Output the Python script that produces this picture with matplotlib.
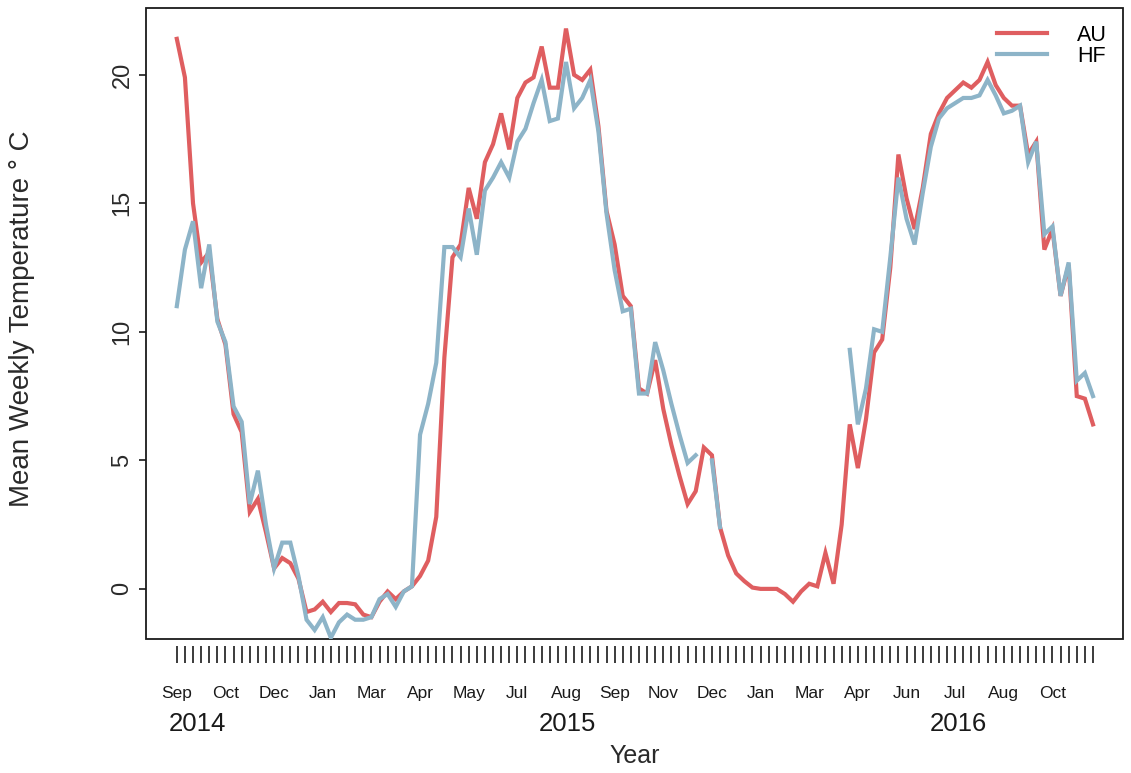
import numpy as np
import matplotlib
matplotlib.use("Agg")
import matplotlib.pyplot as plt
from matplotlib.patches import Rectangle

plt.rcParams['font.family'] = ['Liberation Sans', 'DejaVu Sans']

nan = np.nan

# mean weekly temperature, one value per week from Sep 2014
au = [21.4, 19.9, 15.0, 12.7, 13.1, 10.5, 9.5, 6.8, 6.1, 3.0,
      3.5, 2.2, 0.8, 1.2, 1.0, 0.4, -0.9, -0.8, -0.5, -0.9,
      -0.55, -0.55, -0.6, -1.0, -1.1, -0.5, -0.1, -0.4, -0.1, 0.1,
      0.5, 1.1, 2.8, 9.0, 12.9, 13.4, 15.6, 14.4, 16.6, 17.3,
      18.5, 17.1, 19.1, 19.7, 19.9, 21.1, 19.5, 19.5, 21.8, 20.0,
      19.8, 20.2, 18.0, 14.7, 13.4, 11.4, 11.0, 7.8, 7.6, 8.9,
      7.0, 5.6, 4.4, 3.3, 3.8, 5.5, 5.2, 2.4, 1.3, 0.6,
      0.3, 0.05, 0.0, 0.0, 0.0, -0.2, -0.5, -0.1, 0.2, 0.1,
      1.4, 0.2, 2.5, 6.4, 4.7, 6.6, 9.2, 9.7, 12.5, 16.9,
      15.2, 14.0, 15.6, 17.7, 18.5, 19.1, 19.4, 19.7, 19.5, 19.8,
      20.5, 19.6, 19.1, 18.8, 18.8, 16.9, 17.4, 13.2, 14.0, 11.4,
      12.6, 7.5, 7.4, 6.4]

hf = [11.0, 13.2, 14.3, 11.7, 13.4, 10.4, 9.6, 7.1, 6.5, 3.3,
      4.6, 2.5, 0.8, 1.8, 1.8, 0.5, -1.2, -1.6, -1.1, -1.9,
      -1.3, -1.0, -1.2, -1.2, -1.1, -0.4, -0.2, -0.7, -0.1, 0.1,
      6.0, 7.2, 8.8, 13.3, 13.3, 12.9, 14.8, 13.0, 15.5, 16.0,
      16.6, 16.0, 17.4, 17.9, 18.9, 19.8, 18.2, 18.3, 20.5, 18.7,
      19.1, 19.8, 17.8, 14.6, 12.4, 10.8, 10.9, 7.6, 7.6, 9.6,
      8.5, 7.2, 6.0, 4.9, 5.2, nan, 5.0, 2.4, nan, nan,
      nan, nan, nan, nan, nan, nan, nan, nan, nan, nan,
      nan, nan, nan, 9.3, 6.4, 7.8, 10.1, 10.0, 12.9, 16.0,
      14.4, 13.4, 15.4, 17.2, 18.3, 18.7, 18.9, 19.1, 19.1, 19.2,
      19.8, 19.2, 18.5, 18.6, 18.8, 16.6, 17.4, 13.8, 14.1, 11.4,
      12.7, 8.1, 8.4, 7.5]

month_labels = ['Sep', 'Oct', 'Dec', 'Jan', 'Mar', 'Apr', 'May', 'Jul', 'Aug', 'Sep',
                'Nov', 'Dec', 'Jan', 'Mar', 'Apr', 'Jun', 'Jul', 'Aug', 'Oct']
label_every = 6
years = ['2014', '2015', '2016']
year_pos = [2.6, 48.2, 96.4]

weeks = np.arange(len(au))

fig = plt.figure(figsize=(11.31, 7.73), dpi=100)
ax = fig.add_axes([146/1131, 1 - 639/773, 977/1131, 631/773])

ax.plot(weeks, au, color='#DF5E60', lw=3.0, label='AU', solid_joinstyle='miter')
ax.plot(weeks, hf, color='#8DB4C8', lw=3.0, label='HF', solid_joinstyle='miter')

ax.set_xlim(-3.8, 116.7)
ax.set_ylim(-1.95, 22.6)

# R-style box, with the week ticks hanging a bit below it
for s in ax.spines.values():
    s.set_visible(False)
ax.add_patch(Rectangle((0, 0), 1, 1, transform=ax.transAxes, fill=False,
                       lw=1.3, edgecolor='#1a1a1a', clip_on=False))
ax.spines['bottom'].set_position(('outward', 5))

tick_labels = ['' for _ in weeks]
for k, m in enumerate(month_labels):
    tick_labels[k * label_every] = m
ax.set_xticks(weeks)
ax.set_xticklabels(tick_labels, fontsize=12.5, color='#1a1a1a')
ax.tick_params(axis='x', length=12, width=1.2, pad=17, color='#1a1a1a')

ax.set_yticks([0, 5, 10, 15, 20])
ax.set_yticklabels(['0', '5', '10', '15', '20'], rotation=90, va='center',
                   fontsize=17, color='#2a2a2a')
ax.tick_params(axis='y', length=5, width=1.2, pad=4, color='#1a1a1a')

for y, p in zip(years, year_pos):
    ax.text(p, -0.135, y, transform=ax.get_xaxis_transform(), ha='center',
            va='center', fontsize=18.5, color='#1a1a1a')

ax.set_xlabel('Year', fontsize=18, color='#2a2a2a', va='center')
ax.xaxis.set_label_coords(0.5, -0.186)
ax.set_ylabel('Mean Weekly Temperature ° C', fontsize=20, color='#2a2a2a', va='center')
ax.yaxis.set_label_coords(-0.127, 0.507)

ax.legend(loc='upper right', bbox_to_anchor=(0.999, 0.997), frameon=False, fontsize=15.5,
          handlelength=2.3, labelspacing=-0.02, borderaxespad=0.3, handletextpad=1.4)

fig.savefig('out.png', dpi=100)
